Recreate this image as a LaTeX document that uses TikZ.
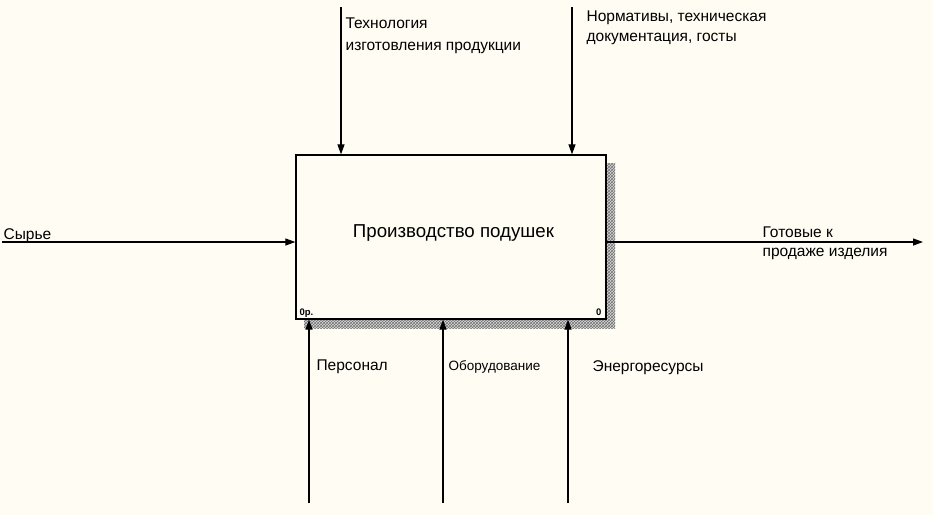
\documentclass[tikz,border=0pt]{standalone}
\usepackage{fontspec}
\setmainfont{Liberation Sans}
\usetikzlibrary{arrows.meta,patterns}
\definecolor{paper}{RGB}{255,252,243}

\begin{document}
\begin{tikzpicture}[x=1pt,y=-1pt,>={Triangle[length=10pt,width=7pt]},line width=1.2pt,
   func/.style={draw,fill=paper,minimum width=310pt,minimum height=164pt,inner sep=0pt,line width=1.3pt},
   fname/.style={font=\fontsize{18.7}{22}\selectfont,inner sep=0pt,anchor=base},
   tag/.style={font=\fontsize{9.5}{11}\selectfont\bfseries,inner sep=0pt},
   arrlbl/.style={font=\fontsize{15.5}{20}\selectfont,inner sep=0pt,align=left}]
   \path[use as bounding box,fill=paper] (0,0) rectangle (933,515);

   \fill[black!15] (304,163) rectangle (615,328);
   \fill[pattern=crosshatch,pattern color=black!55] (304,163) rectangle (615,328);
   \node[func] (f0) at (451,237) {};
   \node[fname] (f0name) at (453.5,237) {Производство подушек};
   \node[tag,anchor=base west] (f0num) at (299,315) {0р.};
   \node[tag,anchor=base east] (f0id)  at (602,315) {0};

   \coordinate (in1)  at (2,242);
   \coordinate (out1) at (923,242);
   \coordinate (c1)   at (341,7);
   \coordinate (c2)   at (572,7);
   \coordinate (m1)   at (309,503);
   \coordinate (m2)   at (443,503);
   \coordinate (m3)   at (568,503);

   \draw[->] (in1) -- (in1 -| f0.west);
   \draw[->] (f0.east |- out1) -- (out1);
   \draw[->] (c1) -- (c1 |- f0.north);
   \draw[->] (c2) -- (c2 |- f0.north);
   \draw[->] (m1) -- (m1 |- f0.south);
   \draw[->] (m2) -- (m2 |- f0.south);
   \draw[->] (m3) -- (m3 |- f0.south);

   \node[arrlbl,anchor=base west]  (in1lbl)  at (3,239)      {Сырье};
   \node[arrlbl,anchor=north west] (out1lbl) at (762,226.3)  {Готовые к\\[-1pt]продаже изделия};
   \node[arrlbl,anchor=north west] (c1lbl)   at (345,17.3)   {Технология\\[1.5pt]изготовления продукции};
   \node[arrlbl,anchor=north west] (c2lbl)   at (586,10.3)   {Нормативы, техническая\\документация, госты};
   \node[arrlbl,anchor=base west]  (m1lbl)   at (316,370.5)  {Персонал};
   \node[arrlbl,anchor=base west,font=\fontsize{13.5}{16}\selectfont] (m2lbl) at (448,370) {Оборудование};
   \node[arrlbl,anchor=base west]  (m3lbl)   at (592,371)    {Энергоресурсы};
\end{tikzpicture}
\end{document}
